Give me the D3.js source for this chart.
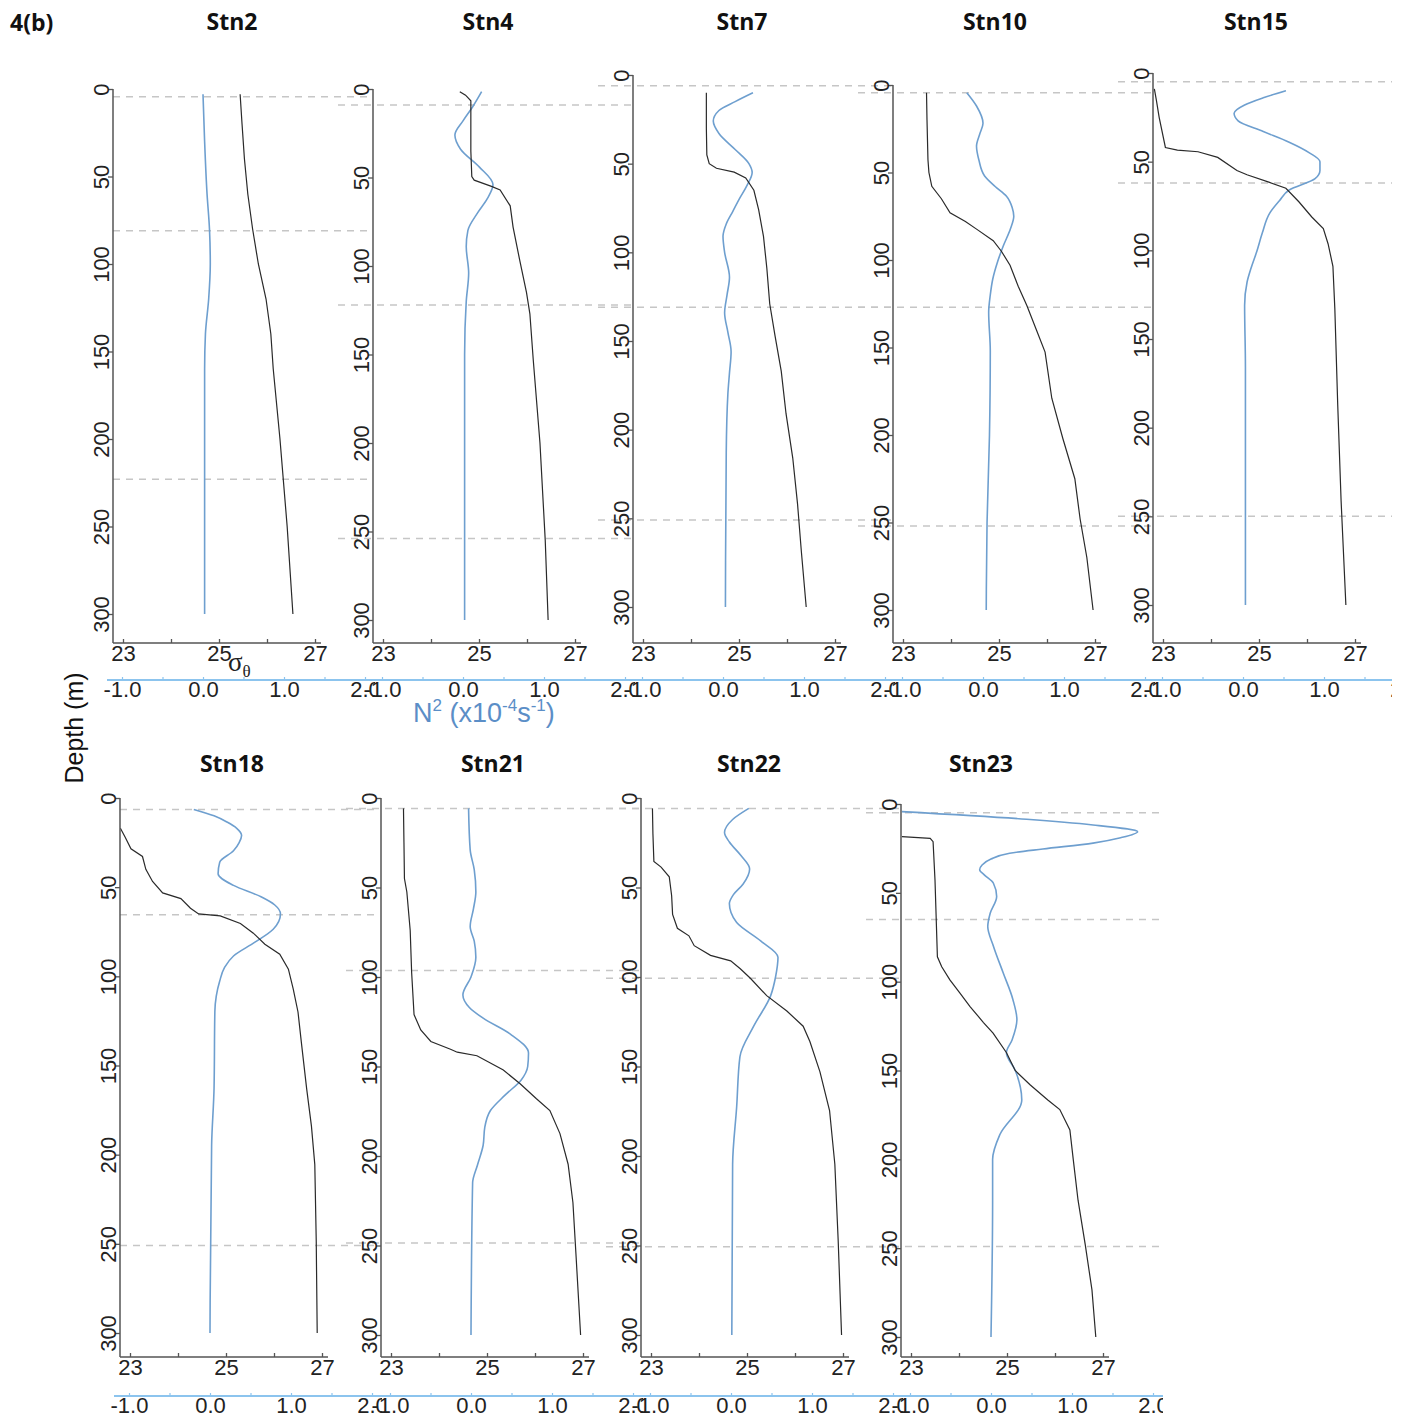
<!DOCTYPE html>
<html>
<head>
<meta charset="utf-8">
<script src="https://cdn.jsdelivr.net/npm/d3@7"></script>
<style>
  body { margin: 0; background: #fff; }
  svg { display: block; font-family: "Liberation Sans", Arial, sans-serif; }
</style>
</head>
<body>
<div id="chart"></div>
<script>
// ---------- data ----------
const stations = ["Stn2", "Stn4", "Stn7", "Stn10", "Stn15", "Stn18", "Stn21", "Stn22", "Stn23"];
const depthTicks = [0, 50, 100, 150, 200, 250, 300];
const sigmaTicks = [23, 24, 25, 26, 27];
const sigmaLabels = [23, 25, 27];
const n2Ticks = [-1, -0.5, 0, 0.5, 1, 1.5, 2];
const n2Labels = [-1, 0, 1, 2];

// [depth (m), sigma-theta]
const sigmaStn2 = [[3,25.44],[20,25.48],[40,25.53],[60,25.6],[80,25.7],[100,25.82],[120,25.98],[140,26.08],[160,26.13],[200,26.27],[250,26.42],[300,26.54]];
const sigmaStn4 = [[1.5,24.6],[3.5,24.72],[6.7,24.83],[20,24.83],[35,24.83],[49.5,24.85],[51.5,24.9],[55,25.26],[57,25.44],[66,25.65],[78,25.71],[97,25.85],[115,25.99],[127,26.06],[153,26.13],[200,26.27],[255,26.38],[300,26.44]];
const sigmaStn7 = [[10,24.32],[30,24.32],[45,24.33],[50,24.38],[52.6,24.53],[54.8,24.9],[58,25.14],[65,25.31],[76,25.41],[91,25.51],[109,25.58],[129,25.64],[147,25.75],[167,25.88],[191,25.98],[216,26.12],[242,26.22],[269,26.3],[300,26.4]];
const sigmaStn10 = [[4.4,23.49],[20,23.5],[42.7,23.52],[50,23.54],[57.9,23.6],[65,23.8],[73,23.98],[78,24.3],[82.5,24.54],[89,24.88],[95,25.05],[103,25.23],[115,25.4],[126,25.58],[140,25.78],[152.6,25.96],[179,26.1],[202,26.33],[225,26.58],[248,26.69],[270,26.83],[300,26.96]];
const sigmaStn15 = [[9,22.82],[15,22.86],[25,22.92],[42,23.05],[43.5,23.3],[44.4,23.73],[47.6,24.14],[55,24.54],[57.4,24.75],[61.7,25.22],[65,25.56],[72.6,25.83],[81.2,26.1],[87.7,26.34],[96.4,26.44],[109,26.54],[133,26.58],[187,26.64],[241,26.71],[300,26.81]];
const sigmaStn18 = [[17,22.8],[22,22.9],[28.5,23.02],[32.8,23.26],[40,23.33],[46.8,23.47],[53.2,23.68],[56.4,24.06],[61.8,24.26],[65,24.43],[66.1,24.88],[70.4,25.3],[75.8,25.57],[82,25.81],[87.6,26.12],[96,26.3],[107,26.4],[120,26.5],[137,26.57],[163,26.68],[184,26.78],[205.6,26.85],[248.5,26.88],[300,26.9]];
const sigmaStn21 = [[5.8,23.26],[25,23.27],[45,23.28],[52.5,23.33],[74,23.4],[97.5,23.43],[121,23.48],[129.6,23.62],[136,23.83],[140.4,24.24],[142,24.38],[144,24.79],[148,25.07],[152,25.34],[159.6,25.69],[168,26.03],[174.6,26.31],[187.5,26.52],[204.6,26.69],[226,26.79],[258,26.86],[300,26.95]];
const sigmaStn22 = [[5.8,23.03],[20,23.04],[35.4,23.06],[38.6,23.21],[44,23.38],[54.6,23.43],[65,23.45],[72.8,23.55],[77,23.79],[82.5,23.9],[87.9,24.24],[91,24.66],[95.4,24.86],[100.7,25.07],[110.4,25.41],[119,25.83],[127.5,26.17],[136,26.31],[153,26.52],[174.6,26.72],[204.6,26.83],[247.5,26.9],[300,26.97]];
const sigmaStn23 = [[18.4,22.81],[19.3,23.4],[21.2,23.46],[42.8,23.5],[86,23.55],[91.6,23.64],[99,23.81],[106.5,24.02],[114,24.23],[123,24.51],[129,24.71],[140,24.99],[150,25.17],[158,25.48],[166.6,25.85],[172,26.1],[183.5,26.31],[200,26.38],[223,26.48],[248,26.63],[273.5,26.77],[300,26.85]];

// [depth (m), N2 (x10^-4 s^-1)]
const n2Stn2 = [[3,0.0],[30,0.02],[60,0.05],[80,0.08],[100,0.09],[120,0.07],[140,0.03],[160,0.02],[200,0.02],[300,0.02]];
const n2Stn4 = [[1.5,0.23],[10,0.12],[18,0.0],[26,-0.1],[34,-0.03],[44,0.2],[54,0.37],[62,0.3],[70,0.18],[80,0.06],[89,0.04],[104,0.07],[120,0.04],[150,0.02],[200,0.02],[300,0.02]];
const n2Stn7 = [[10,0.37],[15,0.15],[20,-0.05],[26,-0.12],[33,-0.05],[42,0.15],[50,0.32],[55,0.36],[62,0.3],[70,0.2],[77,0.12],[84,0.04],[91,0.0],[100,0.02],[114,0.08],[124,0.05],[134,0.02],[145,0.06],[156,0.1],[168,0.08],[180,0.06],[213,0.04],[300,0.03]];
const n2Stn10 = [[4.4,-0.2],[12,-0.08],[21.8,0.0],[28,-0.04],[35,-0.08],[43,-0.05],[52,0.02],[58,0.15],[63.6,0.29],[70,0.36],[75,0.38],[82,0.34],[92,0.25],[101,0.18],[111,0.12],[120,0.09],[130,0.07],[152,0.09],[200,0.08],[250,0.05],[300,0.04]];
const n2Stn15 = [[10,0.53],[14,0.25],[18,0.02],[22.7,-0.11],[27,-0.06],[33,0.25],[39,0.57],[45,0.82],[50,0.95],[55,0.95],[59.6,0.89],[66,0.57],[72,0.45],[79,0.33],[90,0.24],[100.7,0.17],[110,0.1],[118,0.05],[131,0.02],[166,0.03],[300,0.03]];
const n2Stn18 = [[6.4,-0.2],[10,0.05],[13.5,0.21],[17,0.33],[21,0.39],[25,0.36],[29.6,0.29],[36,0.12],[42.5,0.1],[49,0.29],[55.4,0.63],[60,0.8],[65,0.87],[73.6,0.78],[81,0.55],[88.6,0.29],[95,0.18],[102.6,0.12],[119.7,0.06],[162.7,0.05],[194.8,0.02],[300,0.0]];
const n2Stn21 = [[5.8,-0.03],[29,-0.01],[40,0.04],[52.5,0.06],[62,0.03],[71.8,-0.01],[80,0.04],[89,0.06],[100,0.0],[110,-0.1],[117,-0.02],[123,0.15],[132,0.49],[142.5,0.71],[150,0.7],[157.5,0.62],[166,0.42],[174.6,0.24],[184,0.17],[194,0.15],[205,0.08],[215,0.02],[300,0.0]];
const n2Stn22 = [[5.8,0.22],[12,0.02],[19.3,-0.08],[24.6,-0.02],[32,0.12],[39.6,0.23],[48,0.15],[54,0.03],[59,-0.02],[64,0.0],[69.6,0.07],[80,0.37],[89,0.58],[100,0.55],[110.4,0.49],[127.5,0.28],[144.6,0.11],[172.5,0.07],[204.6,0.02],[300,0.01]];
const n2Stn23 = [[4.3,-1.1],[8.6,0.44],[11.8,1.26],[15.6,1.81],[19,1.6],[22,1.26],[25.3,0.64],[27.7,0.23],[31,0.0],[34.3,-0.11],[37,-0.14],[40,-0.08],[44.6,0.03],[52,0.07],[61.5,-0.01],[69,-0.04],[80,0.03],[95,0.15],[110,0.27],[121.5,0.32],[132.8,0.26],[140,0.19],[150,0.3],[166.6,0.38],[186,0.11],[200,0.02],[223,0.02],[300,0.0]];

// depths of the dashed reference lines (m)
const dashStn2 = [4.4, 81, 223];
const dashStn4 = [9, 122, 254];
const dashStn7 = [6, 131, 251];
const dashStn10 = [4.4, 127, 252];
const dashStn15 = [5, 62, 250];
const dashStn18 = [6.4, 65.5, 251];
const dashStn21 = [5.8, 96.4, 248.6];
const dashStn22 = [5.8, 100.7, 250.7];
const dashStn23 = [4.9, 65, 249];

const profiles = {
  Stn2: { sigma: sigmaStn2, n2: n2Stn2, dash: dashStn2 },
  Stn4: { sigma: sigmaStn4, n2: n2Stn4, dash: dashStn4 },
  Stn7: { sigma: sigmaStn7, n2: n2Stn7, dash: dashStn7 },
  Stn10: { sigma: sigmaStn10, n2: n2Stn10, dash: dashStn10 },
  Stn15: { sigma: sigmaStn15, n2: n2Stn15, dash: dashStn15 },
  Stn18: { sigma: sigmaStn18, n2: n2Stn18, dash: dashStn18 },
  Stn21: { sigma: sigmaStn21, n2: n2Stn21, dash: dashStn21 },
  Stn22: { sigma: sigmaStn22, n2: n2Stn22, dash: dashStn22 },
  Stn23: { sigma: sigmaStn23, n2: n2Stn23, dash: dashStn23 }
};

// ---------- layout ----------
const rows = [
  { sigmaY: 643, n2Y: 680, titleY: 30 },
  { sigmaY: 1357, n2Y: 1396, titleY: 772 }
];
// ax = x of the depth axis, top/bot = pixel rows of 0 m and 300 m
const panels = [
  { ax: 113, top: 89, bot: 614, row: 0, col: 0, tx: 232 },
  { ax: 373, top: 89, bot: 620, row: 0, col: 1, tx: 488 },
  { ax: 633, top: 75, bot: 607, row: 0, col: 2, tx: 742 },
  { ax: 893, top: 85, bot: 610, row: 0, col: 3, tx: 995 },
  { ax: 1153, top: 73, bot: 605, row: 0, col: 4, tx: 1256 },
  { ax: 120, top: 798, bot: 1333, row: 1, col: 0, tx: 232 },
  { ax: 381, top: 798, bot: 1335, row: 1, col: 1, tx: 493 },
  { ax: 641, top: 798, bot: 1335, row: 1, col: 2, tx: 749 },
  { ax: 901, top: 804, bot: 1337, row: 1, col: 3, tx: 981 }
];

const axisCol = "#555";
const n2AxisCol = "#8cc4ee";
const blueCol = "#6e9fcf";
const labelFont = "'Liberation Sans', Arial, sans-serif";

const svg = d3.select("#chart").append("svg")
  .attr("width", 1392)
  .attr("height", 1420);

stations.forEach((stn, i) => {
  const p = panels[i];
  const row = rows[p.row];
  const prof = profiles[stn];

  const y = d3.scaleLinear().domain([0, 300]).range([p.top, p.bot]);
  const xs = d3.scaleLinear().domain([23, 27]).range([p.ax + 10, p.ax + 202]);
  const xn = d3.scaleLinear().domain([-1, 2]).range([p.ax + 9, p.ax + 252]);

  const left = p.col === 0 ? 0 : p.ax - 45;
  svg.append("clipPath").attr("id", "clip" + i)
    .append("rect")
    .attr("x", left).attr("y", 0)
    .attr("width", p.ax + 262 - left).attr("height", 1420);

  const g = svg.append("g").attr("clip-path", `url(#clip${i})`);

  // dashed reference depths
  g.selectAll(".mld").data(prof.dash).join("line")
    .attr("class", "mld")
    .attr("x1", p.col === 0 ? p.ax : p.ax - 35)
    .attr("x2", p.ax + 258)
    .attr("y1", d => y(d)).attr("y2", d => y(d))
    .attr("stroke", "#c6c6c6")
    .attr("stroke-width", 1.5)
    .attr("stroke-dasharray", "7,6");

  // profiles
  const sigmaLine = d3.line()
    .x(d => xs(d[1]))
    .y(d => y(d[0]));
  const n2Line = d3.line()
    .curve(d3.curveMonotoneY)
    .x(d => xn(d[1]))
    .y(d => y(d[0]));

  g.append("path")
    .attr("d", n2Line(prof.n2))
    .attr("fill", "none")
    .attr("stroke", blueCol)
    .attr("stroke-width", 1.6);

  g.append("path")
    .attr("d", sigmaLine(prof.sigma))
    .attr("fill", "none")
    .attr("stroke", "#2a2a2a")
    .attr("stroke-width", 1.2);

  // depth axis
  const ya = g.append("g")
    .attr("transform", `translate(${p.ax},0)`)
    .call(d3.axisLeft(y).tickValues(depthTicks).tickSize(5).tickSizeOuter(0));
  ya.select(".domain").remove();
  ya.attr("font-size", 22).attr("font-family", labelFont);
  ya.selectAll(".tick line").attr("stroke", axisCol).attr("stroke-width", 1.3);
  ya.selectAll(".tick text")
    .attr("x", 0).attr("dy", 0)
    .attr("text-anchor", "middle")
    .attr("fill", "#222")
    .attr("transform", "translate(-4,0) rotate(-90)");

  g.append("line")
    .attr("x1", p.ax).attr("x2", p.ax)
    .attr("y1", p.top).attr("y2", row.sigmaY)
    .attr("stroke", axisCol).attr("stroke-width", 1.5);

  // sigma axis
  const sa = g.append("g")
    .attr("transform", `translate(0,${row.sigmaY})`)
    .call(d3.axisBottom(xs).tickValues(sigmaTicks).tickSize(-4).tickSizeOuter(0)
      .tickPadding(2)
      .tickFormat(d => sigmaLabels.includes(d) ? d : ""));
  sa.select(".domain").remove();
  sa.attr("font-size", 22).attr("font-family", labelFont);
  sa.selectAll(".tick line").attr("stroke", axisCol).attr("stroke-width", 1.3);
  sa.selectAll(".tick text").attr("fill", "#222");

  g.append("line")
    .attr("x1", p.ax).attr("x2", p.ax + 208)
    .attr("y1", row.sigmaY).attr("y2", row.sigmaY)
    .attr("stroke", axisCol).attr("stroke-width", 1.5);

  // N2 axis
  const na = g.append("g")
    .attr("transform", `translate(0,${row.n2Y})`)
    .call(d3.axisBottom(xn).tickValues(n2Ticks).tickSize(-3).tickSizeOuter(0)
      .tickPadding(1)
      .tickFormat(d => n2Labels.includes(d) ? d.toFixed(1) : ""));
  na.select(".domain").remove();
  na.attr("font-size", 22).attr("font-family", labelFont);
  na.selectAll(".tick line").attr("stroke", n2AxisCol).attr("stroke-width", 1.2);
  na.selectAll(".tick text").attr("fill", "#222");

  g.append("line")
    .attr("x1", p.ax - 6).attr("x2", p.ax + 262)
    .attr("y1", row.n2Y).attr("y2", row.n2Y)
    .attr("stroke", n2AxisCol).attr("stroke-width", 2);

  // station title
  svg.append("text")
    .attr("x", p.tx).attr("y", row.titleY)
    .attr("text-anchor", "middle")
    .attr("font-family", "'Open Sans', sans-serif")
    .attr("font-weight", "bold")
    .attr("font-size", 23)
    .attr("fill", "#111")
    .text(stn);
});

// panel tag
svg.append("text")
  .attr("x", 10).attr("y", 31)
  .attr("font-family", "'Open Sans', sans-serif")
  .attr("font-weight", "bold")
  .attr("font-size", 23)
  .attr("fill", "#111")
  .text("4(b)");

// shared axis titles
svg.append("text")
  .attr("transform", "translate(83,728) rotate(-90)")
  .attr("text-anchor", "middle")
  .attr("font-family", labelFont)
  .attr("font-size", 25)
  .attr("fill", "#111")
  .text("Depth (m)");

const sig = svg.append("text")
  .attr("x", 228).attr("y", 671)
  .attr("font-family", "'Liberation Serif', serif")
  .attr("font-size", 27)
  .attr("fill", "#222");
sig.append("tspan").text("σ");
sig.append("tspan").attr("font-size", 17).attr("dy", 6).text("θ");

const n2t = svg.append("text")
  .attr("x", 413).attr("y", 722)
  .attr("font-family", labelFont)
  .attr("font-size", 27)
  .attr("fill", "#5b8ec7");
n2t.append("tspan").text("N");
n2t.append("tspan").attr("font-size", 17).attr("dy", -11).text("2");
n2t.append("tspan").attr("dy", 11).text(" (x10");
n2t.append("tspan").attr("font-size", 17).attr("dy", -11).text("-4");
n2t.append("tspan").attr("dy", 11).text("s");
n2t.append("tspan").attr("font-size", 17).attr("dy", -11).text("-1");
n2t.append("tspan").attr("dy", 11).text(")");
</script>
</body>
</html>
